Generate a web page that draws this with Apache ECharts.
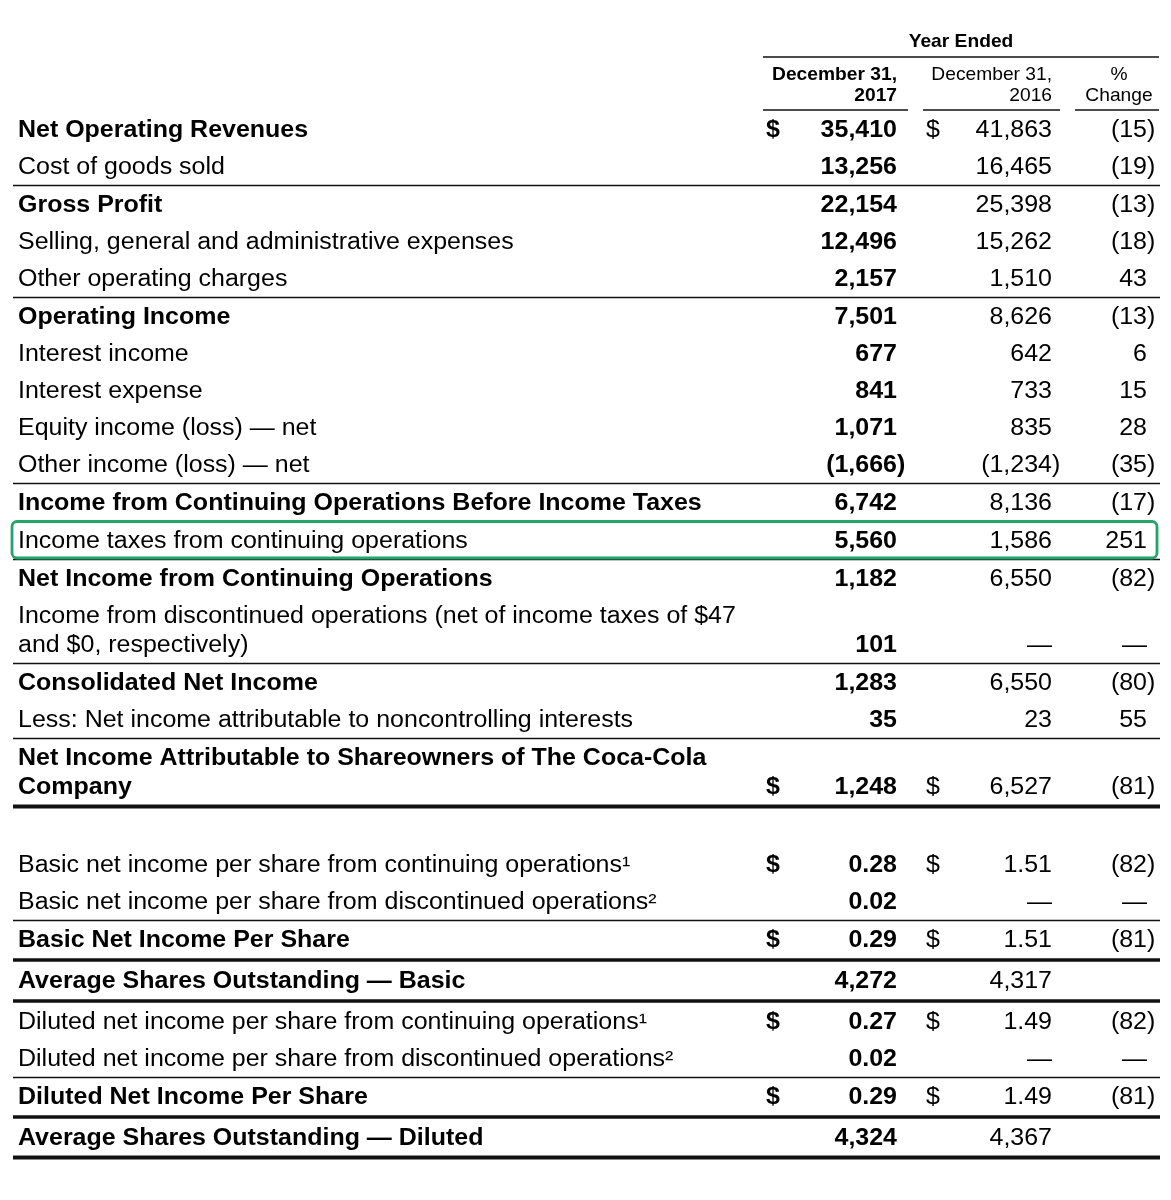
<!DOCTYPE html>
<html>
<head>
<meta charset="utf-8">
<script src="https://cdn.jsdelivr.net/npm/echarts@6/dist/echarts.min.js"></script>
<style>
  html, body { margin: 0; padding: 0; background: #ffffff; }
  #chart { width: 1171px; height: 1200px; }
</style>
</head>
<body>
<div id="chart"></div>
<script>
// ---------------- DATA ----------------
const headTop = 'Year Ended';
const colHeads = ['December 31,\n2017', 'December 31,\n2016', '%\nChange'];

const labels = [
  'Net Operating Revenues',
  'Cost of goods sold',
  'Gross Profit',
  'Selling, general and administrative expenses',
  'Other operating charges',
  'Operating Income',
  'Interest income',
  'Interest expense',
  'Equity income (loss) — net',
  'Other income (loss) — net',
  'Income from Continuing Operations Before Income Taxes',
  'Income taxes from continuing operations',
  'Net Income from Continuing Operations',
  'Income from discontinued operations (net of income taxes of $47\nand $0, respectively)',
  'Consolidated Net Income',
  'Less: Net income attributable to noncontrolling interests',
  'Net Income Attributable to Shareowners of The Coca-Cola\nCompany',
  'Basic net income per share from continuing operations¹',
  'Basic net income per share from discontinued operations²',
  'Basic Net Income Per Share',
  'Average Shares Outstanding — Basic',
  'Diluted net income per share from continuing operations¹',
  'Diluted net income per share from discontinued operations²',
  'Diluted Net Income Per Share',
  'Average Shares Outstanding — Diluted'
];

// null = dash, '' = blank; negative numbers shown in parentheses
const v2017 = [35410, 13256, 22154, 12496, 2157, 7501, 677, 841, 1071, -1666, 6742, 5560, 1182, 101, 1283, 35, 1248,
               0.28, 0.02, 0.29, 4272, 0.27, 0.02, 0.29, 4324];
const v2016 = [41863, 16465, 25398, 15262, 1510, 8626, 642, 733, 835, -1234, 8136, 1586, 6550, null, 6550, 23, 6527,
               1.51, null, 1.51, 4317, 1.49, null, 1.49, 4367];
const pctChange = [-15, -19, -13, -18, 43, -13, 6, 15, 28, -35, -17, 251, -82, null, -80, 55, -81,
                   -82, null, -81, '', -82, null, -81, ''];

// row kinds (presentation)
const boldRows = [0, 2, 5, 10, 12, 14, 16, 19, 20, 23, 24];
const dollarRows = [0, 16, 17, 19, 21, 23];
const perShareRows = [17, 18, 19, 21, 22, 23];
const highlightRow = 11;

// ---------------- LAYOUT ----------------
const FONT = '"Liberation Sans", Arial, Helvetica, sans-serif';
const SX = 1.086;         // horizontal stretch of the source
const FS = 23;            // body font size
const HFS = 17.7;         // header font size
const L = {
  labelX: 18, d17X: 766, v17X: 897, d16X: 926, v16X: 1052, pctX: 1147, pctHeadX: 1119,
  ruleL: 13, ruleR: 1160, headL: 763, headR: 1159,
  head1: [763, 908], head2: [923, 1060], head3: [1075, 1159],
  firstRow: 129, step: 37, lineH: 29, textDy: 1.5, headDy: 1.5, paren: 8.3
};
// rule types above each row: 0 none, 1 thin, 2 thick, 3 highlight box
const ruleAbove = {2: 1, 5: 1, 10: 1, 11: 3, 12: 1, 14: 1, 16: 1, 19: 1, 20: 2, 21: 2, 23: 1, 24: 2};
const gapBefore = {17: 41};
const thickAfter = [16, 24];

const firstY = [], lastY = [];
(function () {
  let y = L.firstRow;
  labels.forEach((lab, i) => {
    if (i > 0) {
      const r = ruleAbove[i] || 0;
      y += L.step + (r === 2 ? 4 : r ? 1 : 0) + (gapBefore[i] || 0);
    }
    firstY[i] = y;
    y += (lab.split('\n').length - 1) * L.lineH;
    lastY[i] = y;
  });
})();

function fmt(v, perShare) {
  if (v === null) return '—';
  if (v === '' || v === undefined) return '';
  const a = Math.abs(v);
  const s = perShare ? a.toFixed(2) : String(Math.round(a)).replace(/\B(?=(\d{3})+(?!\d))/g, ',');
  return v < 0 ? '(' + s + ')' : s;
}

const chart = echarts.init(document.getElementById('chart'), null, {renderer: 'canvas'});

function makeText(api, x, y, text, o) {
  const p = api.coord([x, y]);
  return {
    type: 'text', x: p[0], y: p[1], scaleX: SX, silent: true,
    style: {
      text: text, fill: '#000',
      fontSize: o.size || FS, fontWeight: o.bold ? 'bold' : 'normal', fontFamily: FONT,
      align: o.align || 'left', verticalAlign: 'middle', lineHeight: o.lh || undefined
    }
  };
}
function makeLine(api, x1, x2, y, w) {
  const a = api.coord([x1, y]), b = api.coord([x2, y]);
  return {type: 'line', silent: true, shape: {x1: a[0], y1: a[1], x2: b[0], y2: b[1]},
          style: {stroke: '#111', lineWidth: w}};
}

function renderRow(params, api) {
  const i = api.value(0);
  const bold = boldRows.indexOf(i) >= 0;
  const ps = perShareRows.indexOf(i) >= 0;
  const yl = lastY[i] + L.textDy;
  const yMid = (firstY[i] + lastY[i]) / 2 + L.textDy;
  const ch = [];
  // label
  ch.push(makeText(api, L.labelX, yMid, labels[i], {bold: bold, lh: L.lineH}));
  // dollar signs
  if (dollarRows.indexOf(i) >= 0) {
    ch.push(makeText(api, L.d17X, yl, '$', {bold: true}));
    if (v2016[i] !== null) ch.push(makeText(api, L.d16X, yl, '$', {}));
  }
  const cell = (v, x, b, perShare) => {
    const s = fmt(v, perShare);
    if (!s) return;
    const xx = s.charAt(s.length - 1) === ')' ? x + L.paren : x;
    ch.push(makeText(api, xx, yl, s, {bold: b, align: 'right'}));
  };
  cell(v2017[i], L.v17X, true, ps);
  cell(v2016[i], L.v16X, false, ps);
  cell(pctChange[i], L.pctX, false, false);

  // rules
  const r = ruleAbove[i] || 0;
  if (r === 1) ch.push(makeLine(api, L.ruleL, L.ruleR, firstY[i] - 18.5, 1.5));
  if (r === 2) ch.push(makeLine(api, L.ruleL, L.ruleR, firstY[i] - 20, 3.5));
  if (thickAfter.indexOf(i) >= 0) ch.push(makeLine(api, L.ruleL, L.ruleR, lastY[i] + 20.5, 4));
  if (i === highlightRow) {
    const a = api.coord([12, firstY[i] - 18.5]), b = api.coord([1157, lastY[i] + 18]);
    ch.push({type: 'rect', silent: true, z2: 10,
      shape: {x: a[0], y: a[1], width: b[0] - a[0], height: b[1] - a[1], r: 5},
      style: {fill: 'none', stroke: '#22a46a', lineWidth: 2.8}});
  }
  return {type: 'group', children: ch};
}

function renderHead(params, api) {
  const parts = colHeads.map(s => s.split('\n'));
  const d = L.headDy;
  const ch = [];
  ch.push(makeText(api, (L.headL + L.headR) / 2, 41 + d, headTop, {bold: true, size: HFS, align: 'center'}));
  ch.push(makeLine(api, L.headL, L.headR, 57, 1.5));
  ch.push(makeText(api, L.v17X, 74 + d, parts[0][0], {bold: true, size: HFS, align: 'right'}));
  ch.push(makeText(api, L.v17X, 95 + d, parts[0][1], {bold: true, size: HFS, align: 'right'}));
  ch.push(makeText(api, L.v16X, 74 + d, parts[1][0], {size: HFS, align: 'right'}));
  ch.push(makeText(api, L.v16X, 95 + d, parts[1][1], {size: HFS, align: 'right'}));
  ch.push(makeText(api, L.pctHeadX, 74 + d, parts[2][0], {size: HFS, align: 'center'}));
  ch.push(makeText(api, L.pctHeadX, 95 + d, parts[2][1], {size: HFS, align: 'center'}));
  [L.head1, L.head2, L.head3].forEach(h => ch.push(makeLine(api, h[0], h[1], 110, 1.5)));
  return {type: 'group', children: ch};
}

chart.setOption({
  animation: false,
  backgroundColor: '#ffffff',
  grid: {left: 0, right: 0, top: 0, bottom: 0},
  xAxis: {type: 'value', min: 0, max: 1171, show: false},
  yAxis: {type: 'value', min: 0, max: 1200, inverse: true, show: false},
  series: [
    {type: 'custom', name: 'header', renderItem: renderHead, data: [[0, 0]], clip: false, silent: true},
    {type: 'custom', name: 'rows', renderItem: renderRow,
     data: labels.map((l, i) => [i, lastY[i]]), clip: false, silent: true}
  ]
});
</script>
</body>
</html>
